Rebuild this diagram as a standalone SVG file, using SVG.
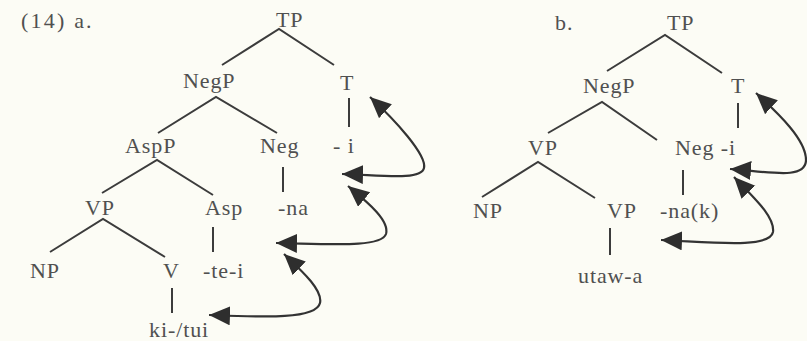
<svg xmlns="http://www.w3.org/2000/svg" width="807" height="341" viewBox="0 0 807 341">
<style>
text{font-family:'Liberation Serif','Times New Roman',Times,serif;font-size:22px;fill:#505050;letter-spacing:0.9px}
.wide{letter-spacing:2.2px}
.e{stroke:#3c3c3c;stroke-width:2;fill:none}
.m{stroke:#333;stroke-width:2.2;fill:none;marker-start:url(#ah);marker-end:url(#ah)}
</style>
<defs>
<marker id="ah" markerUnits="userSpaceOnUse" markerWidth="24" markerHeight="22" refX="21" refY="9.5" orient="auto-start-reverse">
<path d="M0,0 L21,9.5 L0,19 z" fill="#2e2e2e"/>
</marker>
</defs>
<rect width="807" height="341" fill="#fcfcf5"/>
<text class="wide" x="21" y="28">(14) a.</text>
<g id="a-TP"><text x="276" y="27">TP</text></g>
<g id="a-NegP"><text x="183" y="88">NegP</text></g>
<g id="a-T"><text x="340" y="90">T</text></g>
<g id="a-i"><text x="333" y="153">- i</text></g>
<g id="a-AspP"><text x="125" y="153">AspP</text></g>
<g id="a-Neg"><text x="260" y="153">Neg</text></g>
<g id="a-VP"><text x="85" y="215">VP</text></g>
<g id="a-Asp"><text x="205" y="215">Asp</text></g>
<g id="a-na"><text x="278" y="215">-na</text></g>
<g id="a-NP"><text x="30" y="278">NP</text></g>
<g id="a-V"><text x="163" y="278">V</text></g>
<g id="a-tei"><text x="203" y="278">-te-i</text></g>
<g id="a-kitui"><text x="149" y="337">ki-/tui</text></g>
<text x="555" y="30">b.</text>
<g id="b-TP"><text x="667" y="30">TP</text></g>
<g id="b-NegP"><text x="583" y="93">NegP</text></g>
<g id="b-T"><text x="731" y="93">T</text></g>
<g id="b-VP"><text x="528" y="155">VP</text></g>
<g id="b-Neg"><text x="675" y="155">Neg -i</text></g>
<g id="b-NP"><text x="473" y="218">NP</text></g>
<g id="b-VP2"><text x="607" y="218">VP</text></g>
<g id="b-nak"><text x="660" y="218">-na(k)</text></g>
<g id="b-utawa"><text x="578" y="283">utaw-a</text></g>
<g id="connectors">
<path class="e" d="M222,65 L279,29 L334,65"/>
<path class="e" d="M158,133 L216,97 L277,133"/>
<path class="e" d="M349,98 V127"/>
<path class="e" d="M102,193 L157,160 L213,195"/>
<path class="e" d="M283,167 V192"/>
<path class="e" d="M50,252 L103,219 L165,257"/>
<path class="e" d="M213,227 V252"/>
<path class="e" d="M172,288 V313"/>
<path class="e" d="M607,71 L665,35 L722,73"/>
<path class="e" d="M738,103 V128"/>
<path class="e" d="M548,133 L602,102 L657,140"/>
<path class="e" d="M683,170 V195"/>
<path class="e" d="M482,197 L538,162 L595,198"/>
<path class="e" d="M610,228 V255"/>
<path class="m" d="M209,315 C260,317 316,320 320,303 C323,290 302,271 284,254"/>
<path class="m" d="M276,243 C330,244 381,248 386,234 C390,220 366,201 348,186"/>
<path class="m" d="M342,174 C380,175 421,181 424,168 C427,155 395,120 370,97"/>
<path class="m" d="M730,169 C770,172 806,180 806,160 C806,140 780,115 756,93"/>
<path class="m" d="M661,240 C710,242 770,249 773,232 C775,216 752,196 734,177"/>
</g>
</svg>
